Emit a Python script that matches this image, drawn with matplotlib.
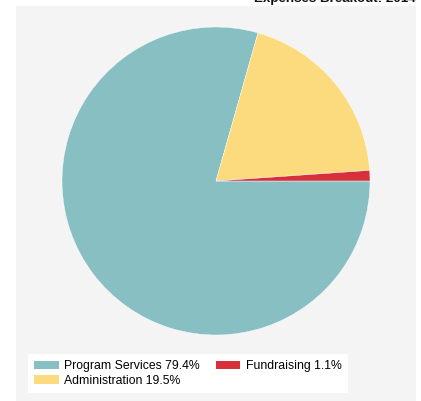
import matplotlib
matplotlib.use("Agg")
import matplotlib.pyplot as plt
from matplotlib.patches import Rectangle

plt.rcParams['font.family'] = ['Liberation Sans', 'DejaVu Sans']

# expenses breakout data
labels = ['Program Services', 'Administration', 'Fundraising']
shares = [79.4, 19.5, 1.1]
colors = ['#88bfc2', '#fcdb7e', '#d7303a']
title = 'Expenses Breakout: 2014'

W, H = 421, 401
fig = plt.figure(figsize=(W / 100, H / 100), dpi=100)
fig.patch.set_facecolor('white')

# grey panel behind the chart
fig.patches.append(Rectangle((16 / W, 0), 400 / W, (H - 6) / H,
                             transform=fig.transFigure, facecolor='#f4f4f4',
                             edgecolor='none', zorder=-1))

# title sits mostly above the visible area, as in the reference
fig.text(416 / W, (H - 5) / H, title, ha='right', va='bottom',
         fontsize=9.6, fontweight='bold', color='#111111')

# pie centred at (216, 181) px with radius 154
r = 154
ax = fig.add_axes([(216 - r) / W, (H - 181 - r) / H, 2 * r / W, 2 * r / H])
ax.set_zorder(2)
ax.patch.set_visible(False)
wedges, _ = ax.pie(shares, colors=colors, startangle=0, counterclock=False,
                   radius=1, wedgeprops=dict(edgecolor='white', linewidth=0.3))
ax.set_xlim(-1, 1)
ax.set_ylim(-1, 1)
ax.set_aspect('equal')
ax.axis('off')

leg_labels = [f'{l} {s}%' for l, s in zip(labels, shares)]
leg = fig.legend(wedges, leg_labels, ncol=2, loc='lower left',
                 bbox_to_anchor=(28 / W, 8 / H), borderaxespad=0,
                 fontsize=8.8, frameon=True, fancybox=False,
                 handlelength=2.0, handleheight=0.7, handletextpad=0.45,
                 columnspacing=1.3, labelspacing=0.2, borderpad=0.5)
leg.set_zorder(3)
leg.get_frame().set_facecolor('white')
leg.get_frame().set_edgecolor('none')
leg.get_frame().set_alpha(1)
for p in leg.get_patches():
    p.set_edgecolor('none')

fig.savefig('out.png', dpi=100)
